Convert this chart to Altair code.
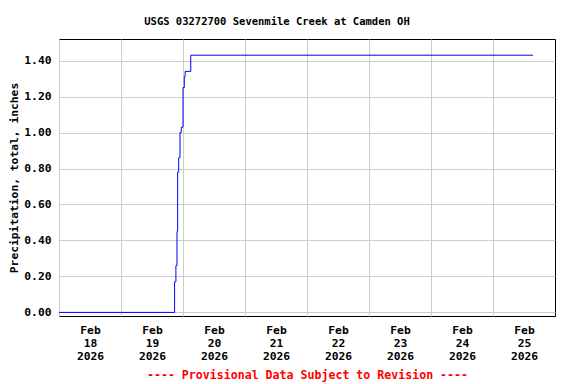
import altair as alt
import pandas as pd

times = [
    "2026-02-18T00:00", "2026-02-19T20:45", "2026-02-19T21:15", "2026-02-19T21:40",
    "2026-02-19T21:55", "2026-02-19T22:20", "2026-02-19T22:50", "2026-02-19T23:20",
    "2026-02-20T00:00", "2026-02-20T00:30", "2026-02-20T00:50", "2026-02-20T03:00",
    "2026-02-25T15:30",
]
values = [0.00, 0.17, 0.26, 0.45, 0.78, 0.86, 1.00, 1.03, 1.25, 1.31, 1.34, 1.43, 1.43]

day_ticks = [18, 19, 20, 21, 22, 23, 24, 25]
y_ticks = [0.0, 0.2, 0.4, 0.6, 0.8, 1.0, 1.2, 1.4]

df = pd.DataFrame({"time": times, "value": values})

FONT = "DejaVu Sans Mono"

chart = (
    alt.Chart(df)
    .mark_line(color="#0000ff", strokeWidth=1, interpolate="step-after", clip=True)
    .encode(
        x=alt.X(
            "time:T",
            scale=alt.Scale(
                domain=[
                    alt.DateTime(year=2026, month=2, date=18),
                    alt.DateTime(year=2026, month=2, date=26),
                ]
            ),
            axis=alt.Axis(
                values=[alt.DateTime(year=2026, month=2, date=d) for d in day_ticks],
                labelExpr="[timeFormat(datum.value, '%b'), timeFormat(datum.value, '%d'), timeFormat(datum.value, '%Y')]",
                labelOffset=31,
                labelPadding=8,
                labelLineHeight=13,
                labelOverlap=False,
                labelFlush=False,
                labelBound=False,
                ticks=False,
                domain=False,
                title="---- Provisional Data Subject to Revision ----",
                titleColor="#ff0000",
                titleFontSize=11.6,
                titlePadding=8,
            ),
        ),
        y=alt.Y(
            "value:Q",
            scale=alt.Scale(domain=[-0.02, 1.52], nice=False, zero=False),
            axis=alt.Axis(
                values=y_ticks,
                format=".2f",
                ticks=False,
                domain=False,
                labelPadding=8,
                title="Precipitation, total, inches",
                titleFontSize=11.3,
                titlePadding=4,
            ),
        ),
    )
    .properties(
        width=496,
        height=277,
        title=alt.TitleParams(
            "USGS 03272700 Sevenmile Creek at Camden OH",
            font=FONT,
            fontSize=10.5,
            fontWeight="bold",
            color="black",
            anchor="middle",
            dx=-30,
            offset=12,
        ),
        autosize=alt.AutoSizeParams(type="none"),
        padding={"left": 51, "top": 31, "right": 13, "bottom": 69},
    )
    .configure_view(stroke="black", strokeWidth=1)
    .configure_axis(
        gridColor="#cccccc",
        gridWidth=1,
        labelFont=FONT,
        labelFontWeight="bold",
        labelFontSize=11.3,
        labelColor="black",
        titleFont=FONT,
        titleFontWeight="bold",
        titleColor="black",
    )
)

chart.save("out.html", embed_options={"renderer": "svg", "actions": False})
